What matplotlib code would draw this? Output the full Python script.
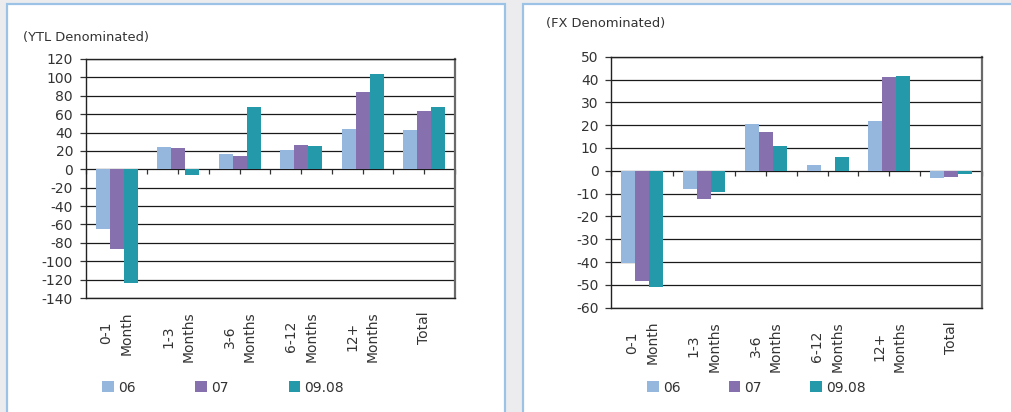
import numpy as np
import matplotlib
matplotlib.use("Agg")
import matplotlib.pyplot as plt
from matplotlib.patches import Rectangle

# Maturity buckets and series
categories = ["0-1\nMonth", "1-3\nMonths", "3-6\nMonths", "6-12\nMonths", "12+\nMonths", "Total"]
series_names = ["06", "07", "09.08"]

ytl_06 = [-65.0, 24.3, 16.7, 21.0, 44.0, 42.8]
ytl_07 = [-86.4, 23.2, 14.5, 26.5, 84.2, 63.5]
ytl_0908 = [-123.5, -5.8, 67.9, 25.4, 103.8, 67.9]

fx_06 = [-40.2, -8.0, 20.5, 2.5, 21.8, -3.1]
fx_07 = [-48.2, -12.3, 16.9, -0.3, 41.1, -2.6]
fx_0908 = [-50.8, -9.2, 10.8, 6.0, 41.5, -1.3]

ytl_ticks = list(range(-140, 121, 20))
fx_ticks = list(range(-60, 51, 10))

colors = ["#95b7dd", "#8670ae", "#2399aa"]
text_color = "#333333"
W, H = 1012, 412

plt.rcParams["font.family"] = ["DejaVu Sans"]
plt.rcParams["axes.unicode_minus"] = False
fig = plt.figure(figsize=(W / 100, H / 100), dpi=100)
fig.patch.set_facecolor("#ececef")

# white panels with light-blue borders
for x0, x1 in [(7, 505), (523, 1030)]:
    fig.patches.append(Rectangle((x0 / W, -0.1), (x1 - x0) / W, 1.1 - 4 / H,
                                 transform=fig.transFigure, facecolor="white",
                                 edgecolor="#9cc2e6", linewidth=1.6, zorder=-5))


def fig_rect(x0, y0, x1, y1):
    return [x0 / W, 1 - y1 / H, (x1 - x0) / W, (y1 - y0) / H]


def draw_panel(ax, series, ticks, legend_x, legend_gap):
    x = np.arange(len(categories))
    w = 0.227
    bars = []
    for k, (vals, col, name) in enumerate(zip(series, colors, series_names)):
        bars.append(ax.bar(x + (k - 1) * w, vals, w, color=col, label=name, zorder=3))
    ax.set_xlim(-0.5, len(categories) - 0.5)
    ax.set_ylim(ticks[0], ticks[-1])
    ax.set_yticks(ticks)
    ax.yaxis.grid(True, color="#1a1a1a", linewidth=0.9, zorder=1)
    ax.set_axisbelow(True)
    ax.set_xticks(x)
    ax.set_xticklabels(categories, rotation=90, va="top", ha="center",
                       multialignment="center", linespacing=1.6)
    ax.tick_params(axis="x", length=0, pad=9.5, labelsize=10, labelcolor=text_color)
    ax.tick_params(axis="y", length=4.3, width=0.9, direction="out", pad=5,
                   labelsize=10, labelcolor=text_color, color="#333333")
    for side in ["left", "top", "bottom"]:
        ax.spines[side].set_color("#222222")
        ax.spines[side].set_linewidth(1.0)
    ax.spines["right"].set_color("#6a6a6a")
    ax.spines["right"].set_linewidth(1.6)

    # small tick marks along the zero line
    zero_frac = (0 - ticks[0]) / (ticks[-1] - ticks[0])
    sec = ax.secondary_xaxis(zero_frac)
    sec.set_alignment("bottom")
    sec.set_xticks(np.arange(-0.5, len(categories), 0.5))
    sec.tick_params(axis="x", direction="out", length=3.8, width=0.9,
                    color="#333333", labelbottom=False, labeltop=False)
    for s in sec.spines.values():
        s.set_visible(False)

    fig.legend(handles=bars, labels=series_names, loc="center left",
               bbox_to_anchor=(legend_x / W, 1 - 387.5 / H),
               bbox_transform=fig.transFigure, ncol=3, frameon=False,
               fontsize=10, labelcolor=text_color, handlelength=0.85,
               handleheight=0.85, handletextpad=0.3, columnspacing=legend_gap,
               borderpad=0, borderaxespad=0)


ax1 = fig.add_axes(fig_rect(86, 59, 455, 298))
draw_panel(ax1, [ytl_06, ytl_07, ytl_0908], ytl_ticks, 102, 4.3)
fig.text(23 / W, 1 - 38 / H, "(YTL Denominated)", ha="left", va="center",
         fontsize=9.4, color=text_color)

ax2 = fig.add_axes(fig_rect(611.3, 56.7, 982, 307.7))
draw_panel(ax2, [fx_06, fx_07, fx_0908], fx_ticks, 647, 3.45)
fig.text(546 / W, 1 - 23 / H, "(FX Denominated)", ha="left", va="center",
         fontsize=9.4, color=text_color)

fig.savefig("out.png", dpi=100, facecolor=fig.get_facecolor())
